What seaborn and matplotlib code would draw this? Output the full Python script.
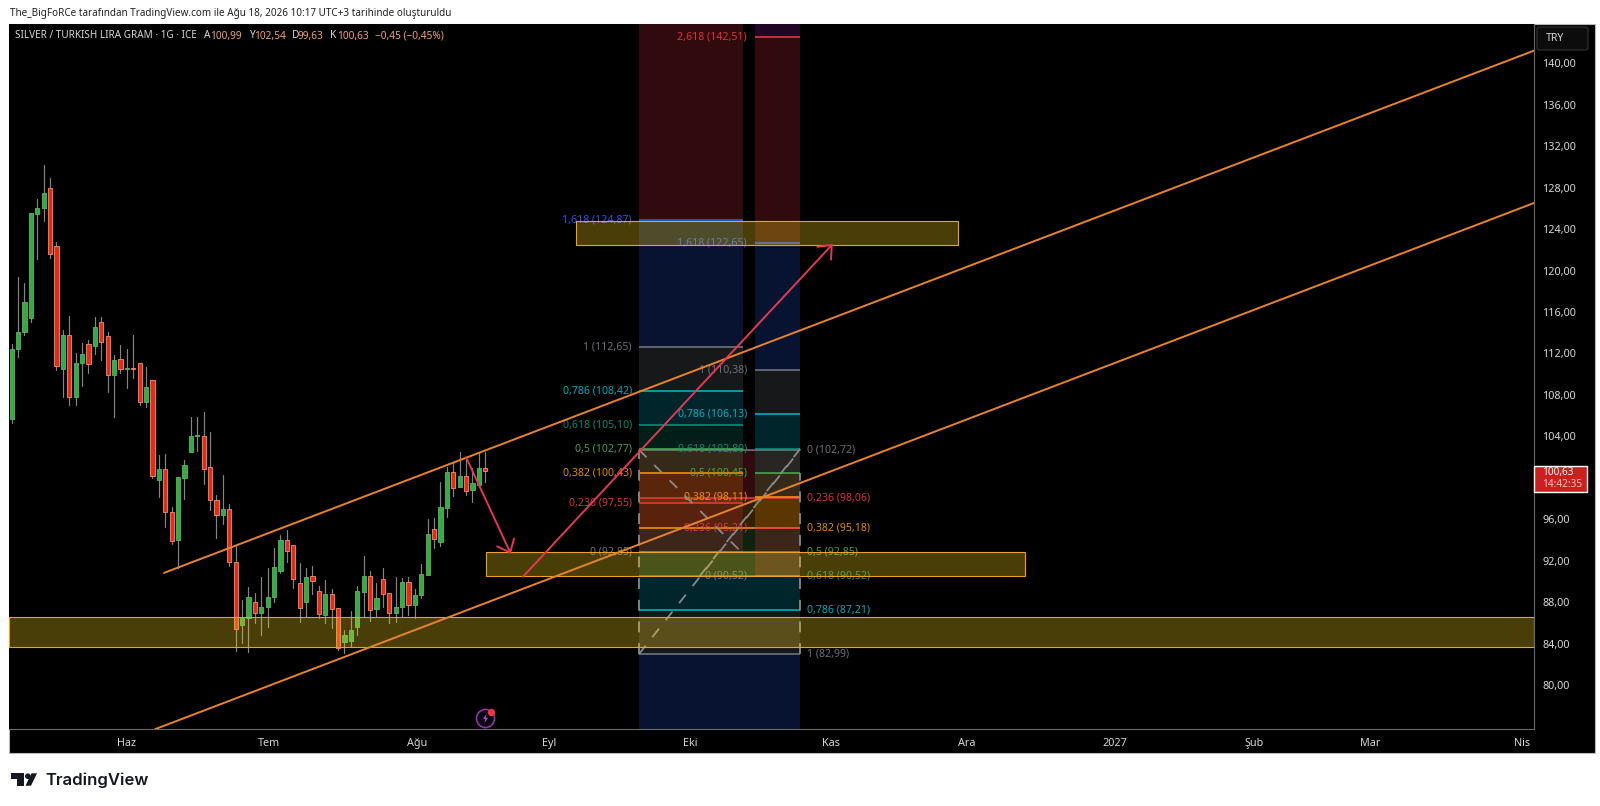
#!/usr/bin/env python3
import numpy as np
import pandas as pd
import matplotlib
matplotlib.use("Agg")
import matplotlib.pyplot as plt
from matplotlib.patches import Rectangle, FancyBboxPatch, Polygon, Ellipse
import seaborn as sns

W, H = 1600, 806

# 1. DATA
opens = [105.72, 112.47, 114.08, 115.46, 125.43, 126.04, 127.94, 122.37, 110.47, 113.79,
         107.84, 111.05, 112.89, 112.76, 115.07, 113.72, 109.93, 111.44, 110.50, 110.55,
         111.05, 107.35, 109.45, 99.80, 100.86, 96.74, 94.00, 100.02, 102.50, 104.00,
         104.04, 101.02, 97.83, 96.45, 96.97, 91.85, 85.81, 86.45, 87.99, 86.99,
         87.57, 88.54, 91.02, 93.98, 93.52, 89.83, 87.99, 90.50, 89.12, 86.77,
         88.76, 87.41, 84.20, 84.27, 85.65, 88.96, 90.50, 87.35, 90.25, 88.93,
         86.99, 87.57, 89.99, 87.74, 88.70, 90.63, 95.04, 93.78, 97.12, 100.54,
         99.15, 100.15, 98.83, 99.31, 100.99]
highs = [112.92, 119.35, 118.77, 125.60, 126.88, 130.19, 128.90, 122.79, 114.27, 115.65,
         112.02, 112.98, 113.30, 115.56, 115.56, 114.11, 111.86, 112.82, 112.40, 113.79,
         111.05, 110.67, 109.45, 102.21, 102.27, 97.23, 100.12, 101.72, 105.90, 105.90,
         106.39, 104.40, 98.35, 100.28, 97.48, 93.43, 88.22, 89.44, 88.93, 90.41,
         91.34, 93.27, 94.49, 94.97, 93.52, 91.76, 91.27, 91.53, 89.60, 90.15,
         89.25, 87.41, 85.32, 87.19, 89.60, 92.46, 91.02, 89.89, 91.27, 88.93,
         90.41, 90.31, 90.41, 89.25, 91.69, 95.99, 96.09, 99.57, 101.08, 101.50,
         102.53, 101.72, 100.92, 102.37, 102.54]
lows = [105.26, 111.70, 113.75, 115.01, 121.15, 124.79, 121.25, 110.41, 107.84, 107.03,
        107.03, 108.90, 110.09, 111.92, 111.37, 108.32, 105.91, 110.09, 108.71, 109.61,
        107.03, 106.87, 99.96, 98.12, 95.29, 93.59, 91.34, 97.93, 102.50, 102.63,
        99.41, 96.90, 94.17, 95.55, 91.50, 83.30, 84.04, 83.20, 86.03, 84.84,
        85.65, 88.06, 90.86, 91.92, 89.34, 86.13, 86.61, 88.76, 86.45, 86.03,
        85.49, 83.40, 83.10, 83.72, 84.84, 86.60, 86.19, 86.61, 87.57, 86.03,
        86.13, 86.68, 86.77, 86.45, 88.38, 90.63, 93.20, 93.46, 96.26, 98.25,
        99.15, 98.35, 97.64, 99.09, 99.63]
closes = [112.40, 114.04, 116.94, 125.53, 126.04, 127.52, 121.57, 110.83, 113.79, 107.84,
          111.12, 111.95, 110.99, 114.53, 113.14, 109.93, 111.37, 110.54, 110.55, 110.50,
          107.35, 108.80, 100.18, 100.86, 96.68, 93.94, 100.12, 101.21, 104.04, 104.04,
          100.89, 97.90, 96.45, 96.97, 91.92, 85.39, 86.45, 88.48, 86.99, 87.57,
          88.54, 91.43, 94.00, 92.98, 90.20, 87.48, 90.41, 90.09, 86.87, 88.76,
          87.35, 83.55, 84.81, 85.32, 89.09, 90.50, 87.25, 88.38, 88.76, 86.99,
          87.57, 89.99, 87.74, 88.73, 90.69, 94.55, 94.14, 97.22, 100.54, 99.06,
          100.15, 98.77, 99.47, 100.92, 100.63]

# 100,00 sits under the last price tag
price_ticks = [80, 84, 88, 92, 96, 104, 108, 112, 116, 120, 124, 128, 132, 136, 140]
month_pos = [18, 40.2, 63.3, 84, 106, 128, 149.3, 172.3, 194.2, 212.3, 236]
month_names = ["Haz", "Tem", "Ağu", "Eyl", "Eki", "Kas", "Ara", "2027", "Şub", "Mar", "Nis"]

fib_names = ["0", "0,236", "0,382", "0,5", "0,618", "0,786", "1", "1,618", "2,618"]
fib_line_cols = ["#787b86", "#f23645", "#ff9800", "#4caf50", "#089981", "#00bcd4", "#787b86", "#2962ff", "#f23645"]
# a band takes the colour of its upper level
fib_band_cols = fib_line_cols[1:] + ["#9c27b0"]

fib_left = [92.85, 97.55, 100.43, 102.77, 105.10, 108.42, 112.65, 124.87, 144.60]
fib_mid = [90.52, 95.21, 98.11, 100.45, 102.80, 106.13, 110.38, 122.65, 142.51]
fib_down = [102.72, 98.06, 95.18, 92.85, 90.52, 87.21, 82.99]
fib_down_names = fib_names[:7]

channel_x = [[23.8, 237.86], [22.4, 237.86]]
channel_y = [[90.83, 141.22], [75.75, 126.52]]
zone_x = [[88.1, 147.8], [74.1, 158.3], [-0.42, 237.86]]
zone_y = [[122.50, 124.83], [90.52, 92.85], [83.71, 86.55]]
arrow_from = [(71.0, 102.0), (79.9, 90.47)]
arrow_to = [(78.0, 92.66), (128.3, 122.57)]

# 2. SETUP
sns.set_theme(style="dark", rc={"axes.facecolor": "black", "figure.facecolor": "white"})
plt.rcParams["font.family"] = ["Noto Sans", "DejaVu Sans"]

fig = plt.figure(figsize=(W / 100, H / 100), dpi=100)
ax = fig.add_axes([9 / W, 1 - 729.3 / H, 1525 / W, 705.3 / H])
ax.set_xlim(-0.42, 237.86)
ax.set_ylim(75.74, 143.79)


def fig_xy(px, py):
    return px / W, 1 - py / H


def fig_text(px, py, s, **kw):
    kw.setdefault("va", "center")
    kw.setdefault("fontsize", 7.6)
    fig.text(*fig_xy(px, py), s, **kw)


# chart panel behind the axes
fig.add_artist(Rectangle(fig_xy(9, 753), 1586 / W, 729 / H, transform=fig.transFigure,
                         facecolor="black", edgecolor="#b8b8b8", linewidth=0.8, zorder=-5))


# 3. FIB BANDS AND LEVELS
def draw_fib(levels, names, x0, x1, label_x, ha, band_alpha=0.2):
    xs = [x0, x1]
    for i in range(len(levels) - 1):
        ax.fill_between(xs, levels[i], levels[i + 1], color=fib_band_cols[i], alpha=band_alpha,
                        linewidth=0, zorder=1)
    for i, lev in enumerate(levels):
        ax.hlines(lev, x0, x1, color=fib_line_cols[i], linewidth=1.1, zorder=2)
        if lev < 143:
            ax.text(label_x, lev, f"{names[i]} ({lev:.2f})".replace(".", ","),
                    color=fib_line_cols[i], ha=ha, va="center", fontsize=7.6, alpha=0.9, zorder=2.5)


draw_fib(fib_down, fib_down_names, 98.0, 123.2, 124.2, "left")
ax.fill_between([98.0, 123.2], 70.8, fib_down[-1], color="#2962ff", alpha=0.2, linewidth=0, zorder=1)
draw_fib(fib_left, fib_names, 98.0, 114.2, 96.9, "right")
draw_fib(fib_mid, fib_names, 116.1, 123.2, 114.9, "right")
ax.fill_between([116.1, 123.2], fib_mid[-1], 160, color="#9c27b0", alpha=0.2, linewidth=0, zorder=1)

# fib trend lines
dash = dict(color="#8a8a8a", linewidth=1.3, linestyle=(0, (6, 6)), zorder=2.6)
ax.plot([98.0, 114.0], [fib_down[0], fib_left[0]], **dash)
ax.plot([98.0, 123.2], [fib_down[-1], fib_down[0]], **dash)
ax.plot([107.5, 123.2], [fib_mid[0], fib_mid[4]], **dash)
ax.plot([98.0, 98.0], [fib_down[-1], fib_down[0]], **dash)
ax.plot([123.2, 123.2], [fib_down[-1], fib_mid[3]], **dash)

# 4. CANDLES
n = len(opens)
candles = pd.DataFrame({"bar": np.arange(n), "open": opens, "high": highs, "low": lows, "close": closes})
wicks = candles.melt(id_vars="bar", value_vars=["high", "low"], value_name="price")
sns.lineplot(data=wicks, x="bar", y="price", units="bar", estimator=None, color="#858585",
             linewidth=0.85, ax=ax, legend=False, zorder=3)

up = candles["close"] >= candles["open"]
body_face = np.where(up, "#3aa845", "#d9301c")
body_edge = np.where(up, "#55b860", "#ff8a66")
ax.bar(candles["bar"], (candles["close"] - candles["open"]).abs().clip(lower=0.1),
       bottom=candles[["open", "close"]].min(axis=1), width=0.68,
       color=body_face, edgecolor=body_edge, linewidth=0.6, zorder=3.2)

# 5. ZONES, CHANNEL, ARROWS
for zx, zy in zip(zone_x, zone_y):
    ax.add_patch(Rectangle((zx[0], zy[0]), zx[1] - zx[0], zy[1] - zy[0], facecolor="#ffd81a",
                           alpha=0.29, linewidth=0, zorder=4))
    ax.add_patch(Rectangle((zx[0], zy[0]), zx[1] - zx[0], zy[1] - zy[0], facecolor="none",
                           edgecolor="#f0a028", linewidth=0.8, zorder=4.1))

for cx, cy in zip(channel_x, channel_y):
    sns.lineplot(x=cx, y=cy, color="#e8842a", linewidth=1.4, ax=ax, legend=False, zorder=5)

for a, b in zip(arrow_from, arrow_to):
    ax.annotate("", xy=b, xytext=a, zorder=6,
                arrowprops=dict(arrowstyle="->,head_length=0.5,head_width=0.42", color="#e23a52",
                                linewidth=1.4, mutation_scale=16, shrinkA=0, shrinkB=0))

# 6. AXES
ax.set_xticks(month_pos, month_names)
ax.set_yticks(price_ticks, [f"{t},00" for t in price_ticks])
ax.yaxis.tick_right()
ax.tick_params(axis="y", length=0, pad=6, labelsize=7.8, labelcolor="#d6d6d6")
ax.tick_params(axis="x", length=0, pad=6, labelsize=7.8, labelcolor="#d6d6d6")
ax.set_xlabel("")
ax.set_ylabel("")
ax.grid(False)
for side in ["top", "left"]:
    ax.spines[side].set_visible(False)
for side in ["right", "bottom"]:
    ax.spines[side].set_color("#6a6a6a")
    ax.spines[side].set_linewidth(0.8)
for lab, name in zip(ax.get_xticklabels(), month_names):
    if name == "2027":
        lab.set_fontweight("bold")

# 7. HEADERS AND BADGES
fig_text(10, 13.5, "The_BigFoRCe tarafından TradingView.com ile Ağu 18, 2026 10:17 UTC+3 tarihinde oluşturuldu",
         color="#222222", fontsize=7.15)
fig_text(15, 36, "SILVER / TURKISH LIRA GRAM · 1G · ICE", color="#d6d6d6", fontsize=7.15)
ohlc_val = "#f0a070"
for px, s, col in [(204, "A", "#d6d6d6"), (210, "100,99", ohlc_val), (249, "Y", "#d6d6d6"), (254, "102,54", ohlc_val),
                   (292, "D", "#d6d6d6"), (298, "99,63", ohlc_val), (330, "K", "#d6d6d6"), (337, "100,63", ohlc_val),
                   (375, "−0,45 (−0,45%)", ohlc_val)]:
    fig_text(px, 36, s, color=col, fontsize=7.3)

fig.add_artist(FancyBboxPatch(fig_xy(1537, 50), 51 / W, 23 / H, boxstyle="round,pad=0,rounding_size=0.002",
                              transform=fig.transFigure, facecolor="#0c0c0c", edgecolor="#333333",
                              linewidth=0.8, zorder=5))
fig_text(1546, 38.5, "TRY", color="#d6d6d6", zorder=6)

fig.add_artist(Rectangle(fig_xy(1534, 492), 53 / W, 26 / H, transform=fig.transFigure,
                         facecolor="#cc2020", zorder=5))
fig_text(1542, 472, "100,63", color="white", fontweight="bold", fontsize=7.2, zorder=6)
fig_text(1542, 485, "14:42:35", color="#f6c4c4", fontsize=7.2, zorder=6)

# alert icon on the axis
bolt = [(0.25, 1), (-0.55, -0.1), (-0.05, -0.1), (-0.25, -1), (0.55, 0.15), (0.05, 0.15)]
ax.scatter([74.0], [76.84], s=170, facecolor="#0d0612", edgecolor="#8e35a8", linewidth=1.2, zorder=6)
ax.scatter([74.0], [76.84], s=45, marker=bolt, color="#b04cd0", linewidth=0, zorder=7)
ax.scatter([74.9], [77.39], s=18, color="#f23645", zorder=8)

# TradingView logo
logo = "#131722"
fig.add_artist(Polygon([fig_xy(11, 773.3), fig_xy(24, 773.3), fig_xy(24, 785.7), fig_xy(17.3, 785.7),
                        fig_xy(17.3, 779.3), fig_xy(11, 779.3)], transform=fig.transFigure,
                       facecolor=logo, edgecolor="none"))
fig.add_artist(Polygon([fig_xy(31.5, 773.3), fig_xy(37, 773.3), fig_xy(31, 785.7), fig_xy(25.5, 785.7)],
                       transform=fig.transFigure, facecolor=logo, edgecolor="none"))
fig.add_artist(Ellipse(fig_xy(27.8, 776.2), 5.6 / W, 5.6 / H, transform=fig.transFigure,
                       facecolor=logo, edgecolor="none"))
fig_text(45, 780, "TradingView", color=logo, fontsize=12, fontweight="semibold", family="Inter")

fig.savefig("out.png", dpi=100)
plt.close(fig)
